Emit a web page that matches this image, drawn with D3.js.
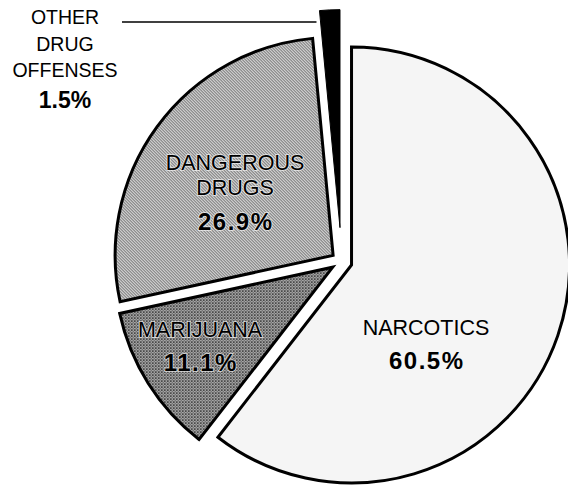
<!DOCTYPE html>
<html>
<head>
<meta charset="utf-8">
<script src="https://cdn.jsdelivr.net/npm/d3@7/dist/d3.min.js"></script>
<style>
  html, body { margin: 0; padding: 0; background: #fff; }
  svg { display: block; }
  text { font-family: "Liberation Sans", Arial, Helvetica, sans-serif; fill: #000; }
</style>
</head>
<body>
<svg id="chart" width="568" height="487"></svg>
<script>
// Drug offense categories and their share of the total (percent)
const categories = ["NARCOTICS", "MARIJUANA", "DANGEROUS DRUGS", "OTHER DRUG OFFENSES"];
const shares = [60.5, 11.1, 26.9, 1.5];
const nameLines = [["NARCOTICS"], ["MARIJUANA"], ["DANGEROUS", "DRUGS"], ["OTHER", "DRUG", "OFFENSES"]];

// Presentation settings
const W = 568, H = 487;
const center = { x: 341.6, y: 261.6 };
const radius = 218;
const explode = [10.5, 10.5, 10.5, 34];
const fills = ["#f5f5f5", "url(#screenDark)", "url(#screenMid)", "#000"];
// label placement: centre x, baselines of name lines, baseline of the percentage
const labelLayout = [
  { x: 426, lines: [335], pct: 369, size: 21.5, pctSize: 24, pctSpacing: 1.5, halo: false },
  { x: 200, lines: [337], pct: 371, size: 21.5, pctSize: 24, pctSpacing: 1.5, halo: true },
  { x: 235, lines: [170, 195], pct: 230, size: 21.5, pctSize: 24, pctSpacing: 1.5, halo: true },
  { x: 65, lines: [24, 51, 77], pct: 108, size: 19.5, pctSize: 23, pctSpacing: 0, halo: false }
];

const svg = d3.select("#chart");
svg.append("rect").attr("width", W).attr("height", H).attr("fill", "#fff");

// halftone screens for the two grey slices
const defs = svg.append("defs");
function screen(id, base, ink, dots) {
  const p = defs.append("pattern")
    .attr("id", id).attr("patternUnits", "userSpaceOnUse")
    .attr("width", 3).attr("height", 3);
  p.append("rect").attr("width", 3).attr("height", 3).attr("fill", base);
  dots.forEach(([x, y]) => p.append("rect")
    .attr("x", x).attr("y", y).attr("width", 1).attr("height", 1)
    .attr("fill", ink).attr("shape-rendering", "crispEdges"));
}
screen("screenMid", "#d4d4d4", "#5a5a5a", [[0, 0], [1, 1], [2, 2]]);
screen("screenDark", "#bdbdbd", "#4a4a4a", [[0, 0], [1, 1], [2, 2], [2, 0], [0, 2]]);

const pie = d3.pie().sort(null).value(d => d).startAngle(0).endAngle(2 * Math.PI);
const arc = d3.arc().innerRadius(0).outerRadius(radius);
const slices = pie(shares);

const g = svg.append("g").attr("transform", `translate(${center.x},${center.y})`);

g.selectAll("path.slice")
  .data(slices)
  .join("path")
  .attr("class", "slice")
  .attr("transform", (d, i) => {
    const mid = (d.startAngle + d.endAngle) / 2;
    return `translate(${Math.sin(mid) * explode[i]},${-Math.cos(mid) * explode[i]})`;
  })
  .attr("d", arc)
  .attr("fill", (d, i) => fills[i])
  .attr("stroke", "#000")
  .attr("stroke-width", (d, i) => i === 3 ? 1 : 3)
  .attr("stroke-linejoin", "miter");

// leader line from the small-slice label to its wedge
const small = slices[3];
const smallMid = (small.startAngle + small.endAngle) / 2;
const smallTipX = center.x + Math.sin(smallMid) * explode[3] + Math.sin(small.startAngle) * radius;
svg.append("line")
  .attr("x1", 122).attr("x2", smallTipX - 3)
  .attr("y1", 22).attr("y2", 22)
  .attr("stroke", "#000").attr("stroke-width", 1.5);

// category names and percentages
slices.forEach((d, i) => {
  const L = labelLayout[i];
  const grp = svg.append("g");
  nameLines[i].forEach((line, k) => {
    grp.append("text")
      .attr("x", L.x).attr("y", L.lines[k])
      .attr("text-anchor", "middle")
      .attr("font-size", L.size)
      .text(line);
  });
  grp.append("text")
    .attr("x", L.x + L.pctSpacing / 2).attr("y", L.pct)
    .attr("text-anchor", "middle")
    .attr("font-size", L.pctSize)
    .attr("font-weight", "bold")
    .attr("letter-spacing", L.pctSpacing)
    .text(d.data.toFixed(1) + "%");
  if (L.halo) {
    grp.selectAll("text")
      .attr("stroke", "rgba(255,255,255,0.6)")
      .attr("stroke-width", 2)
      .attr("paint-order", "stroke");
  }
});
</script>
</body>
</html>
